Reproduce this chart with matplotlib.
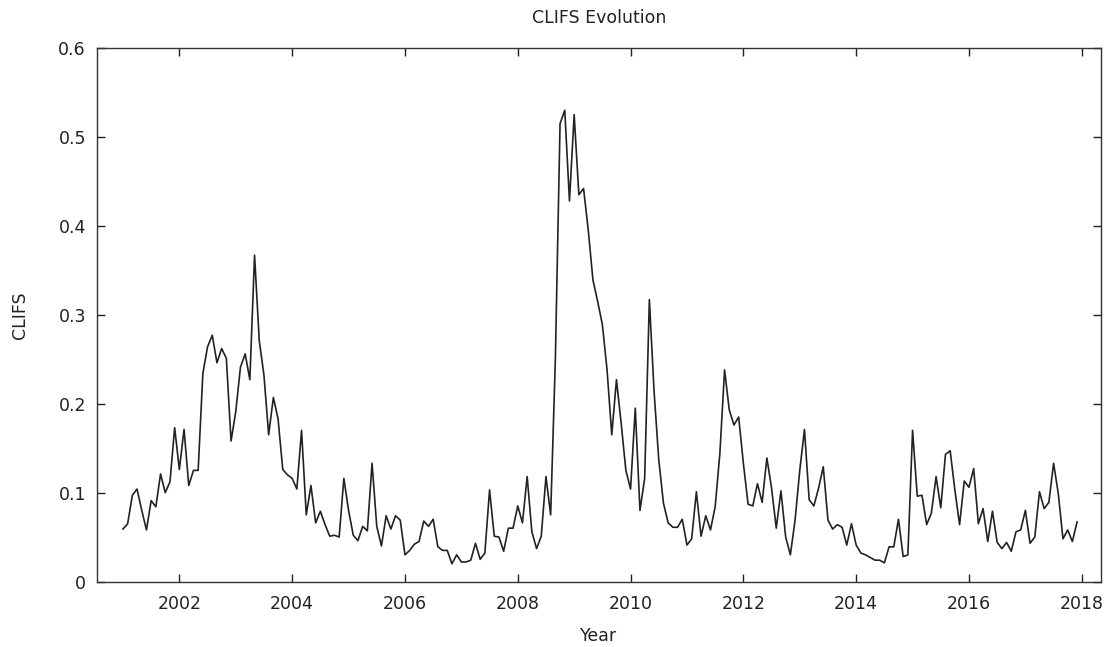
import numpy as np
import matplotlib
matplotlib.use('Agg')
import matplotlib.pyplot as plt

# monthly CLIFS readings, Jan 2001 .. Dec 2017 (one row per year)
start_year = 2001
clifs = [
  0.059, 0.065, 0.097, 0.104, 0.080, 0.058, 0.091, 0.084, 0.121, 0.100, 0.112, 0.173,  # 2001
  0.126, 0.171, 0.108, 0.125, 0.125, 0.234, 0.264, 0.277, 0.246, 0.262, 0.251, 0.158,  # 2002
  0.191, 0.241, 0.256, 0.227, 0.367, 0.271, 0.232, 0.165, 0.207, 0.183, 0.126, 0.120,  # 2003
  0.116, 0.104, 0.170, 0.075, 0.108, 0.066, 0.079, 0.064, 0.051, 0.052, 0.050, 0.116,  # 2004
  0.080, 0.052, 0.046, 0.062, 0.057, 0.133, 0.062, 0.040, 0.074, 0.059, 0.074, 0.069,  # 2005
  0.030, 0.035, 0.042, 0.045, 0.068, 0.062, 0.070, 0.039, 0.035, 0.035, 0.020, 0.030,  # 2006
  0.022, 0.022, 0.024, 0.043, 0.025, 0.032, 0.103, 0.051, 0.050, 0.034, 0.060, 0.060,  # 2007
  0.085, 0.066, 0.118, 0.056, 0.037, 0.051, 0.118, 0.075, 0.250, 0.515, 0.530, 0.428,  # 2008
  0.525, 0.435, 0.442, 0.395, 0.339, 0.315, 0.289, 0.238, 0.165, 0.227, 0.178, 0.125,  # 2009
  0.104, 0.195, 0.080, 0.116, 0.317, 0.214, 0.137, 0.088, 0.066, 0.061, 0.061, 0.070,  # 2010
  0.041, 0.048, 0.101, 0.051, 0.074, 0.058, 0.084, 0.144, 0.238, 0.193, 0.176, 0.185,  # 2011
  0.133, 0.087, 0.085, 0.110, 0.089, 0.139, 0.105, 0.060, 0.102, 0.050, 0.030, 0.069,  # 2012
  0.125, 0.171, 0.092, 0.085, 0.105, 0.129, 0.069, 0.059, 0.064, 0.061, 0.041, 0.065,  # 2013
  0.041, 0.032, 0.030, 0.027, 0.024, 0.024, 0.021, 0.039, 0.039, 0.070, 0.028, 0.030,  # 2014
  0.170, 0.096, 0.097, 0.064, 0.077, 0.118, 0.083, 0.143, 0.147, 0.103, 0.064, 0.113,  # 2015
  0.106, 0.127, 0.065, 0.082, 0.045, 0.079, 0.044, 0.037, 0.044, 0.034, 0.056, 0.058,  # 2016
  0.080, 0.043, 0.050, 0.101, 0.082, 0.089, 0.133, 0.099, 0.048, 0.058, 0.045, 0.067,  # 2017
]

x_ticks = [2002, 2004, 2006, 2008, 2010, 2012, 2014, 2016, 2018]
y_ticks = [0, 0.1, 0.2, 0.3, 0.4, 0.5, 0.6]
y_tick_labels = ['0', '0.1', '0.2', '0.3', '0.4', '0.5', '0.6']

years = start_year + np.arange(len(clifs)) / 12.0

plt.rcParams['font.family'] = ['DejaVu Sans']
plt.rcParams['font.size'] = 12.5
text_color = '#222222'

fig = plt.figure(figsize=(11.15, 6.47), dpi=100)
ax = fig.add_axes([0.087, 0.1012, 0.9004, 0.8246])

ax.plot(years, clifs, color='#222222', linewidth=1.2)

ax.set_xlim(2000.54, 2018.34)
ax.set_ylim(0, 0.6)
ax.set_xticks(x_ticks)
ax.set_xticklabels([str(t) for t in x_ticks])
ax.set_yticks(y_ticks)
ax.set_yticklabels(y_tick_labels)

ax.tick_params(direction='in', length=5.5, width=1.0, colors=text_color,
               top=True, right=True, labelsize=12.5)
ax.tick_params(axis='x', pad=10)
ax.tick_params(axis='y', pad=8)
for s in ax.spines.values():
  s.set_color('#333333')
  s.set_linewidth(1.0)

ax.set_title('CLIFS Evolution', color=text_color, fontsize=12.5, pad=18)
ax.set_xlabel('Year', color=text_color)
ax.set_ylabel('CLIFS', color=text_color)
ax.xaxis.set_label_coords(0.5, -0.086)
ax.yaxis.set_label_coords(-0.068, 0.5)

fig.savefig('out.png', dpi=100)
